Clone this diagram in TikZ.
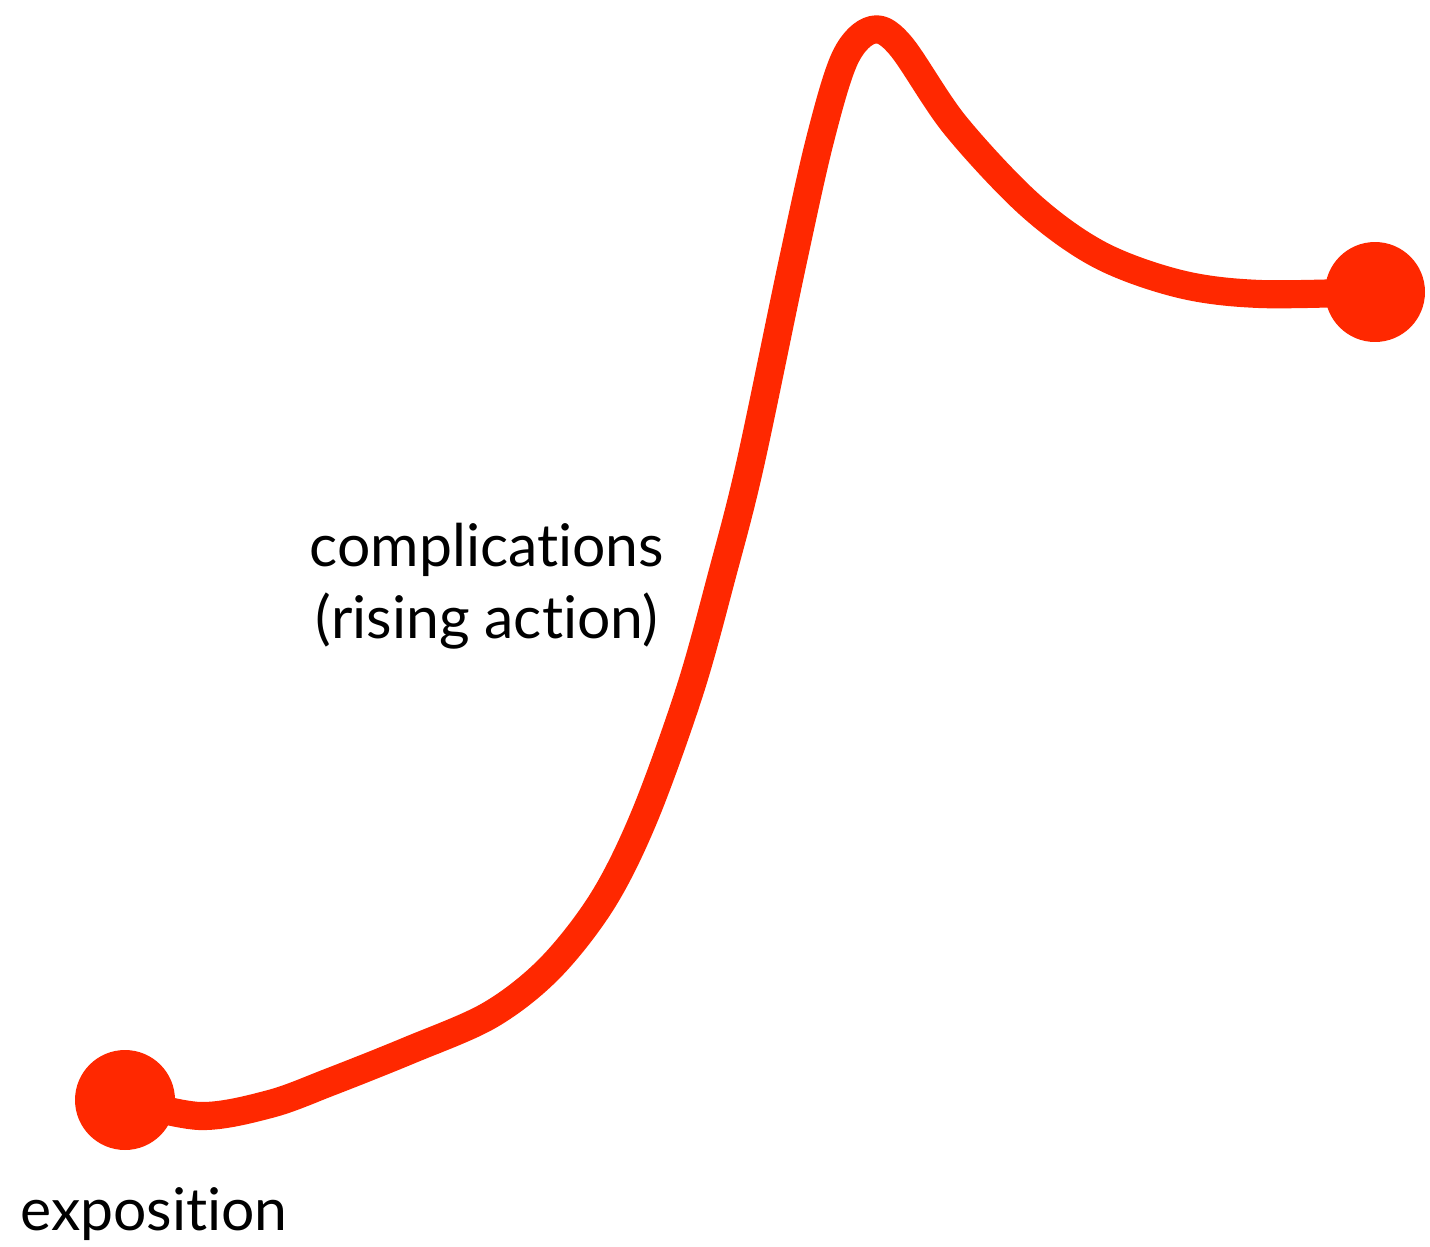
\documentclass[tikz,border=0pt]{standalone}
\usepackage{fontspec}
\setmainfont{Lato}[Ligatures=CommonOff]
\definecolor{arcred}{RGB}{255,40,0}
\tikzset{>=stealth,
  arc/.style={line width=16pt, arcred, line cap=round, line join=round},
  dot/.style={circle, fill=arcred, inner sep=0pt, minimum size=2cm},
  lbl/.style={font=\fontsize{33.5}{41}\selectfont, align=center}}
\begin{document}
\begin{tikzpicture}[x=0.02cm, y=-0.02cm]
\useasboundingbox (0,0) rectangle (1430,1247);
\node[dot] (start) at (125,1100) {};
\node[dot] (end) at (1375,292) {};
\draw[arc] plot[smooth, tension=0.55] coordinates {(start.center) (200,1116) (270,1104) (330,1082) (410,1050) (490,1015) (550,968) (603,900) (645,815) (690,690) (722,575) (750,465) (792,265) (820,140) (845,58) (872,30) (900,45) (955,125) (1030,205) (1100,255) (1180,284) (1260,294) (end.center)};
\node[lbl] (rising) at (487,586) {complications\\(rising action)};
\node[lbl] (expo) at (154,1214) {exposition};
\node[lbl, anchor=east] (cut) at (4,806) {c};
\end{tikzpicture}
\end{document}
